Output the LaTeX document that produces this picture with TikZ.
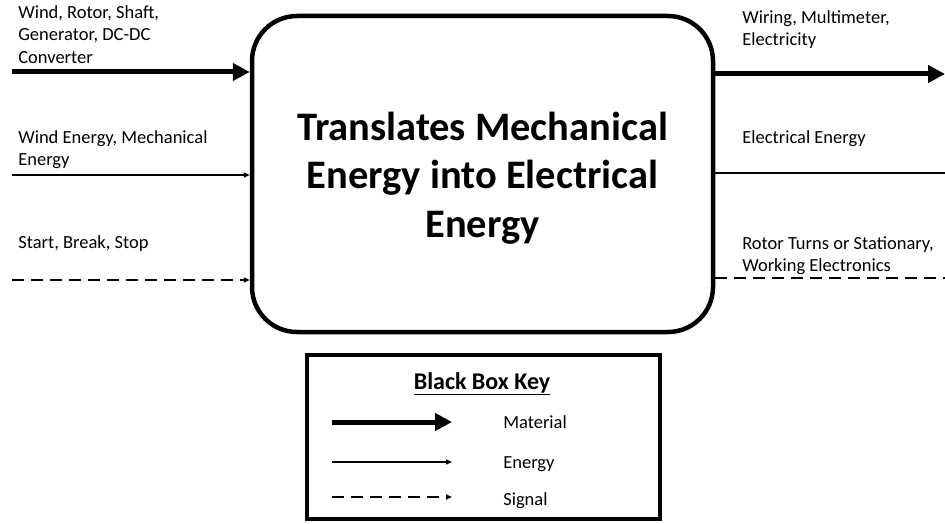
\documentclass[tikz,border=0pt]{standalone}
\usepackage{fontspec}
\setmainfont{Carlito}
\usetikzlibrary{arrows.meta, positioning}

\begin{document}
\begin{tikzpicture}[x=1pt,y=-1pt,semithick]
  \tikzstyle{material}=[line width=5pt,-{Triangle[length=17pt,width=17pt]}]
  \tikzstyle{energy}=[line width=1.4pt,-{Triangle[length=6pt,width=5pt]}]
  \tikzstyle{signal}=[line width=2pt,dash pattern=on 12pt off 7pt,-{Triangle[length=6pt,width=5pt]}]
  \tikzstyle{lbl}=[anchor=north west,inner sep=0pt,align=left,font=\fontsize{18.5}{22.5}\selectfont]
  \tikzstyle{keylbl}=[anchor=base west,inner sep=0pt,font=\fontsize{18.5}{22.5}\selectfont]

  \useasboundingbox (0,0) rectangle (945,524);

  % the black box
  \node[draw,line width=4.5pt,rounded corners=45pt,minimum width=461pt,minimum height=316pt,
        align=center,font=\bfseries\fontsize{40.5}{48.5}\selectfont] (fn) at (482.5,174)
        {\rule{0pt}{36pt}Translates Mechanical\\Energy into Electrical\\Energy};

  % inputs
  \node[lbl] (lm) at (18,5)    {Wind, Rotor, Shaft,\\Generator, DC-DC\\Converter};
  \node[lbl] (le) at (18,130)  {Wind Energy, Mechanical\\Energy};
  \node[lbl] (ls) at (18,235)  {Start, Break, Stop};
  \coordinate (inM) at (12,72);
  \coordinate (inE) at (12,175);
  \coordinate (inS) at (12,280);
  \draw[material] (inM) -- (inM -| fn.west);
  \draw[energy]   (inE) -- (inE -| fn.west);
  \draw[signal]   (inS) -- (inS -| fn.west);

  % outputs
  \node[lbl] (rm) at (742,10)  {Wiring, Multimeter,\\Electricity};
  \node[lbl] (re) at (742,130) {Electrical Energy};
  \node[lbl] (rs) at (742,236) {Rotor Turns or Stationary,\\Working Electronics};
  \coordinate (outM) at (945,74);
  \coordinate (outE) at (945,173);
  \coordinate (outS) at (945,278);
  \draw[material]  (fn.east |- outM) -- (outM);
  \draw[energy,-]  (fn.east |- outE) -- (outE);
  \draw[signal,-]  (fn.east |- outS) -- (outS);

  % key
  \node[draw,line width=4.5pt,minimum width=353pt,minimum height=164pt] (key) at (483.5,437) {};
  \node[anchor=base,inner sep=0pt,font=\bfseries\fontsize{24}{28}\selectfont] (kt) at (482,389) {\underline{Black Box Key}};
  \coordinate (kM1) at (332,422);
  \coordinate (kM2) at (452,422);
  \coordinate (kE1) at (332,462);
  \coordinate (kE2) at (452,462);
  \coordinate (kS1) at (332,497);
  \coordinate (kS2) at (452,497);
  \draw[material] (kM1) -- (kM2);
  \draw[energy]   (kE1) -- (kE2);
  \draw[signal]   (kS1) -- (kS2);
  \node[keylbl] (km) at (503,428) {Material};
  \node[keylbl] (ke) at (503,468) {Energy};
  \node[keylbl] (ks) at (503,505) {Signal};
\end{tikzpicture}
\end{document}
